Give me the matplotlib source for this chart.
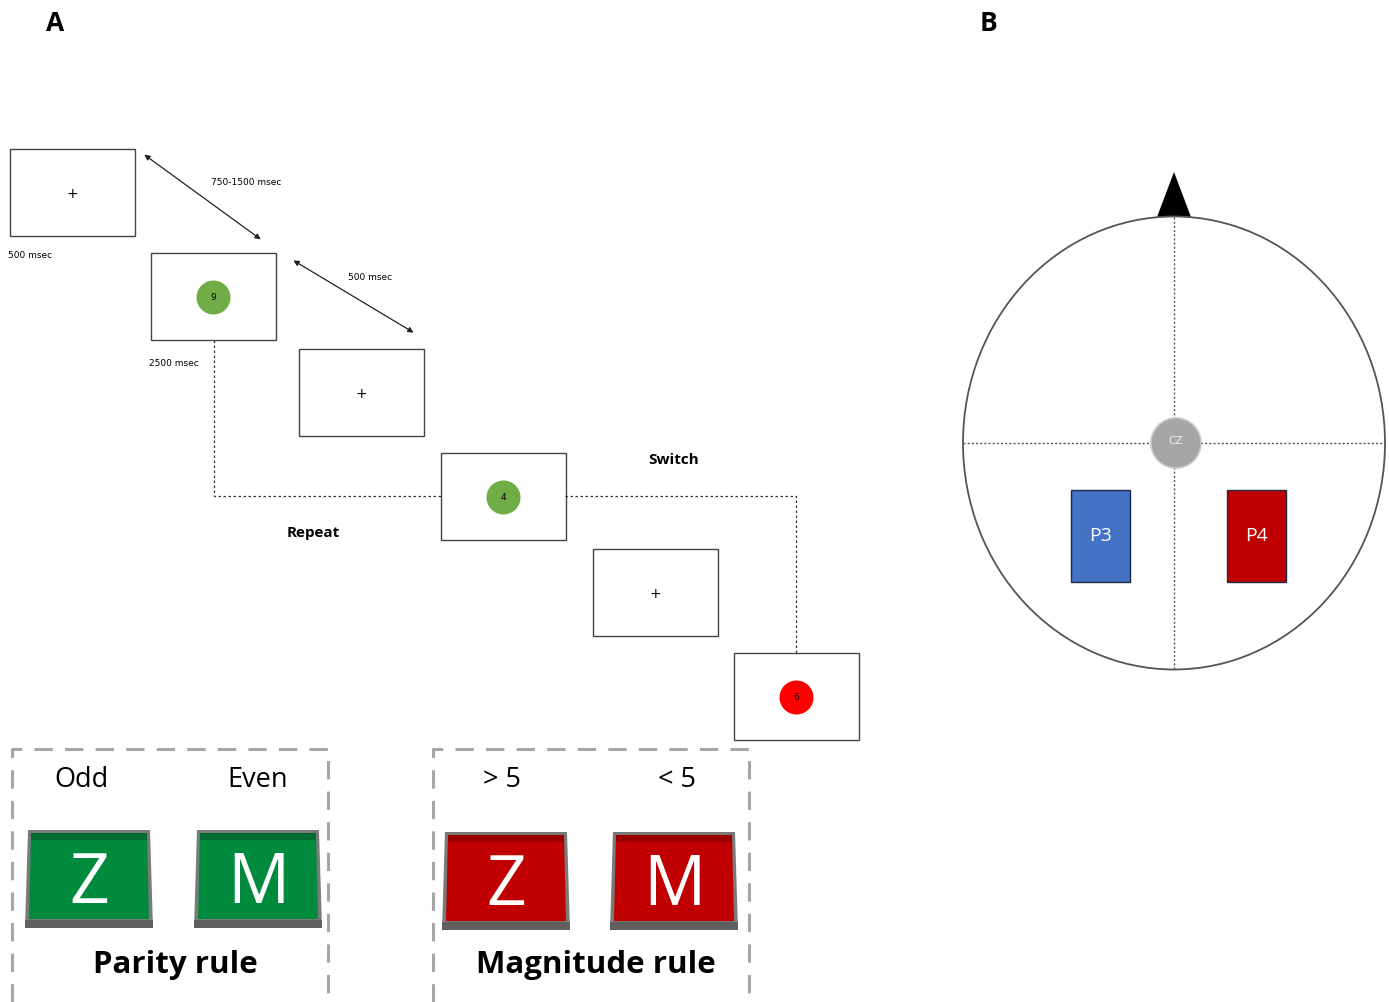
import matplotlib
matplotlib.use("Agg")
import matplotlib.pyplot as plt
from matplotlib.patches import Rectangle, Circle, Ellipse, Polygon, FancyArrowPatch

# stimulus sequence (panel A)
frame_content = ["+", "9", "+", "4", "+", "6"]
frame_colors = [None, "#70ad47", None, "#70ad47", None, "#ff0000"]
frame_left = [10, 151, 299, 441, 593, 734]
frame_top = [149, 253, 349, 453, 549, 653]
timing_labels = ["750-1500 msec", "500 msec", "500 msec", "2500 msec"]
transition_labels = ["Repeat", "Switch"]

# response mappings
rule_names = ["Parity rule", "Magnitude rule"]
rule_responses = [["Odd", "Even"], ["> 5", "< 5"]]
key_letters = ["Z", "M"]
key_face = ["#008a3e", "#c00000"]
key_top = ["#006b30", "#9a0000"]

# electrodes (panel B)
electrodes = ["P3", "P4"]
electrode_colors = ["#4472c4", "#c00000"]

FW, FH = 125, 87

fig = plt.figure(figsize=(13.89, 10.02), dpi=100)
ax = fig.add_axes([0, 0, 1, 1])
ax.set_xlim(0, 1389)
ax.set_ylim(1002, 0)
ax.axis("off")

ax.text(55, 23, "A", fontsize=19, fontweight="bold", ha="center", va="center", family="Open Sans")
ax.text(988, 23, "B", fontsize=19, fontweight="bold", ha="center", va="center", family="Open Sans")

# frames
for i, c in enumerate(frame_content):
    x0, y0 = frame_left[i], frame_top[i]
    ax.add_patch(Rectangle((x0, y0), FW, FH, fill=False, ec="#444444", lw=1.0))
    cx, cy = x0 + FW / 2, y0 + FH / 2 + 1
    if frame_colors[i] is None:
        ax.text(cx, cy, c, fontsize=10, ha="center", va="center")
    else:
        ax.add_patch(Circle((cx, cy), 17, fc=frame_colors[i], ec="none"))
        ax.text(cx, cy, c, fontsize=6.5, ha="center", va="center")

# timing arrows
for (p, q) in [((142, 153), (263, 241)), ((291, 259), (416, 334))]:
    ax.add_patch(FancyArrowPatch(p, q, arrowstyle="<|-|>", mutation_scale=8,
                                 color="#222222", lw=0.9))
ax.text(246, 182, timing_labels[0], fontsize=6.5, ha="center", va="center")
ax.text(30, 255, timing_labels[1], fontsize=6.5, ha="center", va="center")
ax.text(370, 277, timing_labels[2], fontsize=6.5, ha="center", va="center")
ax.text(174, 364, timing_labels[3], fontsize=6.5, ha="center", va="center")

# repeat / switch connectors
ax.plot([214, 214, 441], [340, 496, 496], ls=(0, (2, 2)), color="#333333", lw=0.9)
ax.plot([565, 796, 796], [496, 496, 653], ls=(0, (2, 2)), color="#333333", lw=0.9)
ax.text(313, 533, transition_labels[0], fontsize=11, fontweight="bold", ha="center", va="center", family="Open Sans")
ax.text(674, 460, transition_labels[1], fontsize=11, fontweight="bold", ha="center", va="center", family="Open Sans")


def draw_key(x0, y0, letter, face, top):
    w, h = 126, 98
    ax.add_patch(Polygon([(x0 + 2, y0), (x0 + w - 2, y0), (x0 + w + 1, y0 + h), (x0 - 1, y0 + h)],
                         closed=True, fc="#7a7a7a", ec="none"))
    ax.add_patch(Rectangle((x0 - 1, y0 + h - 8), w + 2, 8, fc="#5f5f5f", ec="none"))
    ax.add_patch(Polygon([(x0 + 5, y0 + 3), (x0 + w - 5, y0 + 3), (x0 + w - 3, y0 + h - 9), (x0 + 3, y0 + h - 9)],
                         closed=True, fc=face, ec="none"))
    ax.add_patch(Polygon([(x0 + 5, y0 + 3), (x0 + w - 5, y0 + 3), (x0 + w - 5, y0 + 10), (x0 + 5, y0 + 10)],
                         closed=True, fc=top, ec="none"))
    ax.text(x0 + w / 2, y0 + h / 2 + 6, letter, fontsize=50, color="white",
            ha="center", va="center", family="Open Sans")


# rule boxes
box_left = [12, 433]
key_left = [[26, 195], [443, 611]]
key_y = [830, 832]
resp_x = [[82, 258], [502, 677]]
for r in range(2):
    bx = box_left[r]
    ax.plot([bx, bx, bx + 316, bx + 316], [1002, 749, 749, 1002],
            ls=(0, (6, 4)), color="#a6a6a6", lw=2.2)
    for k in range(2):
        ax.text(resp_x[r][k], 780, rule_responses[r][k], fontsize=19.5, ha="center", va="center", family="Open Sans")
        draw_key(key_left[r][k], key_y[r], key_letters[k], key_face[r], key_top[r])
    ax.text(bx + 163, 965, rule_names[r], fontsize=22.5, fontweight="bold", ha="center", va="center", family="Open Sans")

# head model
hx, hy = 1174, 443
ax.add_patch(Polygon([(1174, 172), (1157, 217), (1191, 217)], closed=True, fc="black", ec="none"))
ax.add_patch(Ellipse((hx, hy), 422, 453, fill=False, ec="#555555", lw=1.3))
ax.plot([963, 1385], [hy, hy], ls=(0, (1.5, 1.5)), color="#555555", lw=1.0)
ax.plot([hx, hx], [217, 670], ls=(0, (1.5, 1.5)), color="#555555", lw=1.0)
ax.add_patch(Circle((1176, hy), 25, fc="#a6a6a6", ec="#c8c8c8", lw=1.2, zorder=3))
ax.text(1176, hy - 2, "CZ", fontsize=7.5, color="#f0f0f0", ha="center", va="center", zorder=4)
el_left = [1071, 1227]
for i, name in enumerate(electrodes):
    ax.add_patch(Rectangle((el_left[i], 490), 59, 92, fc=electrode_colors[i], ec="#1f2a44", lw=1.0, zorder=3))
    ax.text(el_left[i] + 29.5, 536, name, fontsize=14, color="white", ha="center", va="center",
            family="Open Sans", zorder=4)

fig.savefig("out.png", dpi=100, facecolor="white")
